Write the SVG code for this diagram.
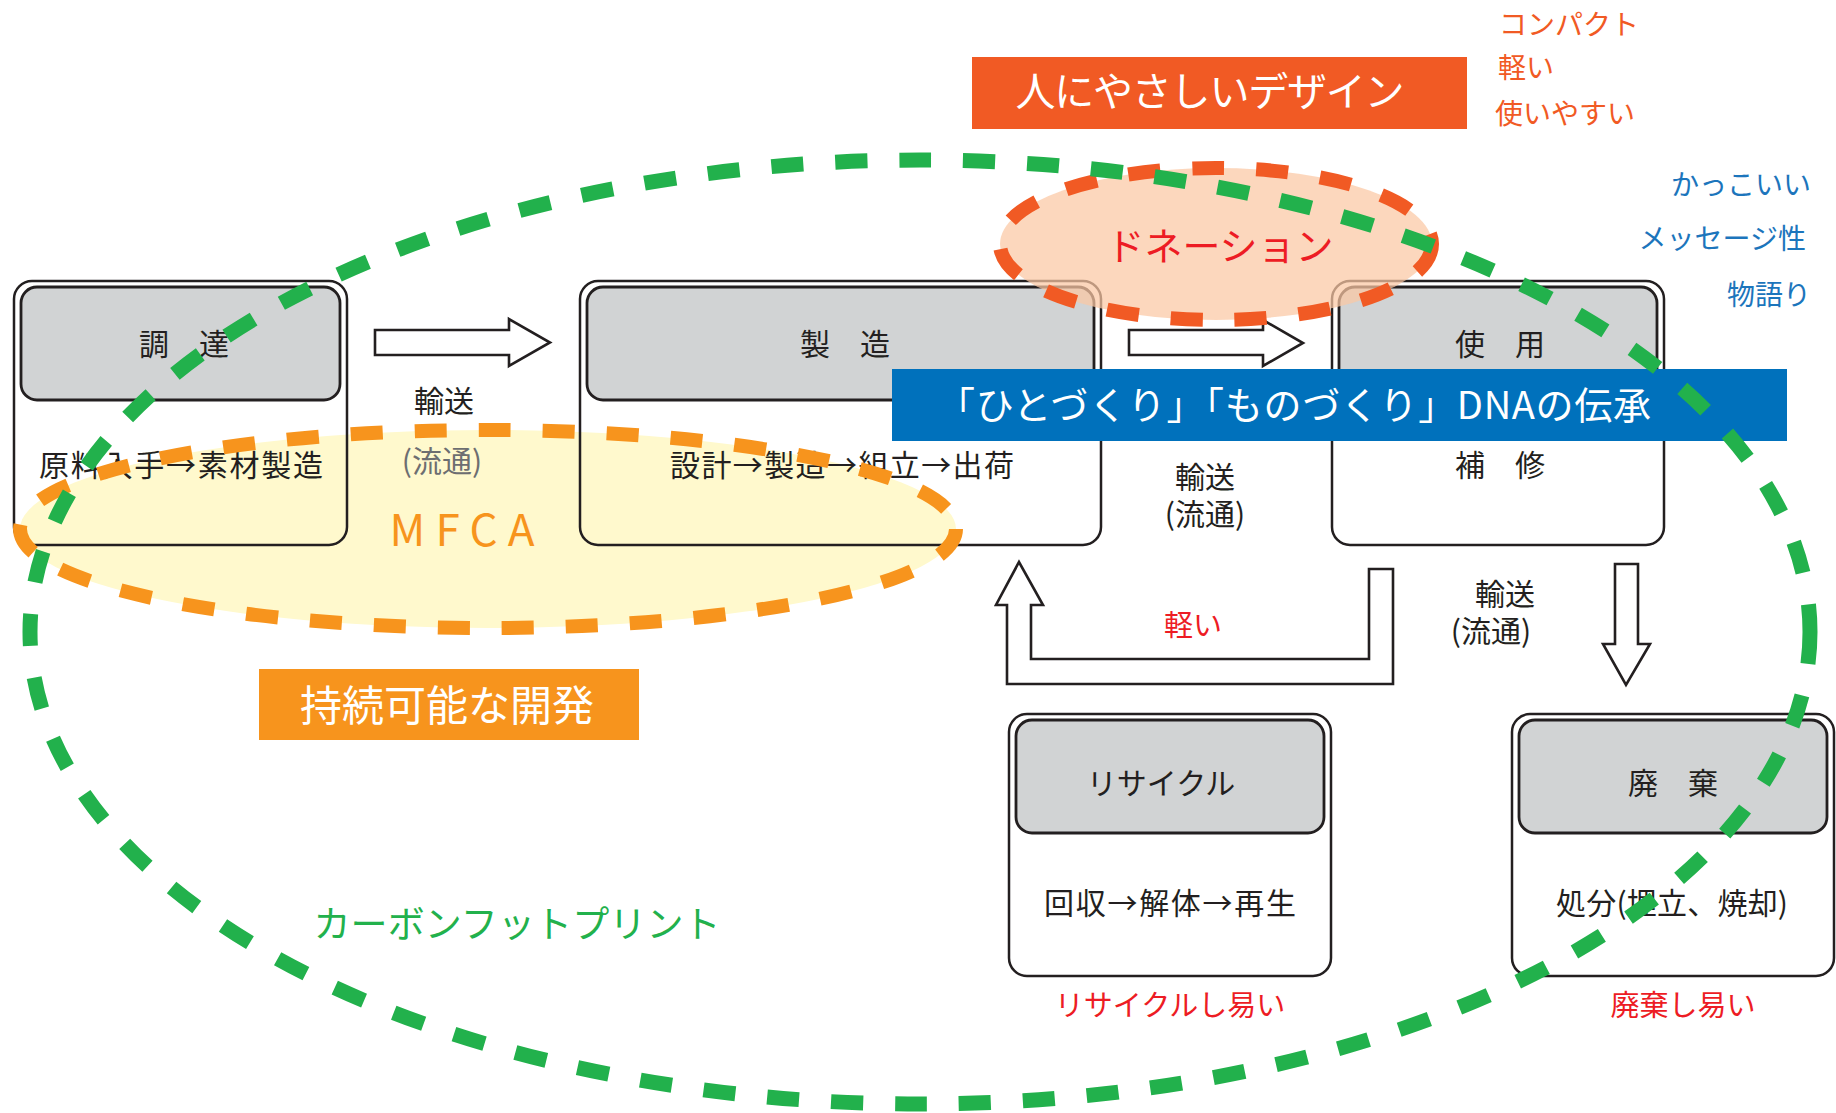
<svg xmlns="http://www.w3.org/2000/svg" width="1836" height="1113" viewBox="0 0 1836 1113">
<style>
text{font-family:"Noto Sans CJK JP","Noto Sans",sans-serif;}
.box{fill:none;stroke:#231F20;stroke-width:2.5;}
.hdr{fill:#D1D3D4;stroke:#231F20;stroke-width:2.8;}
.t{fill:#231F20;font-size:30px;text-anchor:middle;}
.arr{fill:#FFFFFF;stroke:#231F20;stroke-width:2.6;stroke-linejoin:miter;}
.red{fill:#ED1C24;font-size:29px;text-anchor:middle;}
.org{fill:#F15A24;font-size:28px;}
.blu{fill:#1C75BC;font-size:28px;text-anchor:end;}
</style>
<rect width="1836" height="1113" fill="#FFFFFF"/>

<!-- MFCA ellipse fill -->
<ellipse id="mfca-fill" cx="488" cy="529" rx="468" ry="99" fill="#FFF9CD"/>

<g id="node-chotatsu">
<rect class="box" x="14" y="281" width="333" height="264" rx="18"/>
<rect class="hdr" x="21" y="287" width="319" height="113" rx="16"/>
<text class="t" x="184" y="355">調　達</text>
<text class="t" x="181" y="476" textLength="284" lengthAdjust="spacing">原料入手→素材製造</text>
</g>

<g id="node-seizo">
<rect class="box" x="580" y="281" width="521" height="264" rx="18"/>
<rect class="hdr" x="587" y="287" width="507" height="113" rx="16"/>
<text class="t" x="845" y="355">製　造</text>
<text class="t" x="842" y="476" textLength="344" lengthAdjust="spacing">設計→製造→組立→出荷</text>
</g>

<g id="node-shiyo">
<rect class="box" x="1332" y="281" width="332" height="264" rx="18"/>
<rect class="hdr" x="1339" y="287" width="318" height="113" rx="16"/>
<text class="t" x="1500" y="355">使　用</text>
<text class="t" x="1500" y="476">補　修</text>
</g>

<g id="node-recycle">
<rect class="box" x="1009" y="714" width="322" height="262" rx="18"/>
<rect class="hdr" x="1016" y="720" width="308" height="113" rx="16"/>
<text class="t" x="1161" y="794">リサイクル</text>
<text class="t" x="1170" y="914" textLength="252" lengthAdjust="spacing">回収→解体→再生</text>
</g>

<g id="node-haiki">
<rect class="box" x="1512" y="714" width="322" height="262" rx="18"/>
<rect class="hdr" x="1519" y="720" width="308" height="113" rx="16"/>
<text class="t" x="1673" y="794">廃　棄</text>
<text class="t" x="1672" y="914" textLength="232" lengthAdjust="spacing">処分(埋立、焼却)</text>
</g>

<!-- MFCA ellipse dashed outline -->
<g id="mfca">
<ellipse cx="488" cy="529" rx="468" ry="99" fill="none" stroke="#F7941D" stroke-width="14" stroke-dasharray="32 32"/>
<text x="462" y="546" fill="#F7941D" font-size="44" text-anchor="middle" textLength="145" lengthAdjust="spacing">MFCA</text>
</g>

<g id="connectors">
<polygon class="arr" points="375,330 509,330 509,319 550,342.5 509,366 509,355 375,355"/>
<polygon class="arr" points="1129,330 1263,330 1263,320 1303,343 1263,366 1263,355 1129,355"/>
<polygon class="arr" points="1615,564 1638,564 1638,644 1650,644 1626,685 1603,644 1615,644"/>
<polygon class="arr" points="1007,605 1007,684 1393,684 1393,569 1369,569 1369,659 1031,659 1031,605 1043,605 1019,562 996,605"/>
<text class="t" x="444" y="412">輸送</text>
<text class="t" x="442" y="472" style="fill:#6D6E71">(流通)</text>
<text class="t" x="1205" y="488">輸送<tspan x="1205" dy="37">(流通)</tspan></text>
<text class="t" x="1505" y="605">輸送<tspan x="1491" dy="37">(流通)</tspan></text>
<text class="red" x="1193" y="636">軽い</text>
</g>

<!-- Donation ellipse -->
<g id="donation">
<ellipse cx="1216" cy="244" rx="216" ry="76" fill="#FBC7A4" fill-opacity="0.72" stroke="#F15A24" stroke-width="14" stroke-dasharray="32 32"/>
<text x="1220" y="260" fill="#ED1C24" font-size="38" text-anchor="middle">ドネーション</text>
</g>

<g id="dna-band">
<rect x="892" y="369" width="895" height="72" fill="#0071BC"/>
<text x="937" y="419" fill="#FFFFFF" font-size="38" textLength="714" lengthAdjust="spacing">「ひとづくり」「ものづくり」DNAの伝承</text>
</g>

<g id="human-design">
<rect x="972" y="57" width="495" height="72" fill="#F15A24"/>
<text x="1210" y="106" fill="#FFFFFF" font-size="40" text-anchor="middle" textLength="389" lengthAdjust="spacing">人にやさしいデザイン</text>
</g>

<g id="sustainable">
<rect x="259" y="669" width="380" height="71" fill="#F7941D"/>
<text x="447" y="721" fill="#FFFFFF" font-size="42" text-anchor="middle">持続可能な開発</text>
</g>

<!-- Carbon footprint ellipse -->
<g id="carbon">
<ellipse cx="920" cy="632" rx="890" ry="472" fill="none" stroke="#22B14C" stroke-width="15" stroke-dasharray="32 32"/>
<text x="517" y="938" fill="#22B14C" font-size="37" text-anchor="middle" textLength="407" lengthAdjust="spacing">カーボンフットプリント</text>
</g>

<g id="labels">
<text class="org" x="1499" y="35">コンパクト</text>
<text class="org" x="1498" y="78">軽い</text>
<text class="org" x="1495" y="124">使いやすい</text>
<text class="blu" x="1811" y="195">かっこいい</text>
<text class="blu" x="1806" y="249">メッセージ性</text>
<text class="blu" x="1811" y="305">物語り</text>
<text class="red" x="1170" y="1016">リサイクルし易い</text>
<text class="red" x="1683" y="1016">廃棄し易い</text>
</g>
</svg>
